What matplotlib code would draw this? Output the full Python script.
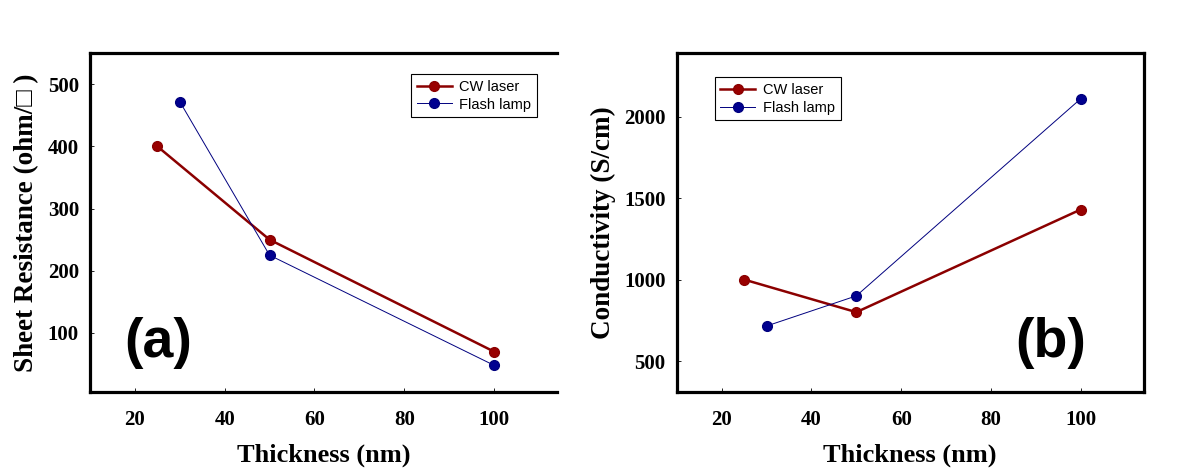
import matplotlib
matplotlib.use("Agg")
import matplotlib.pyplot as plt

# data
cw_x = [25, 50, 100]
flash_x = [30, 50, 100]
cw_sheet = [400, 250, 70]
flash_sheet = [472, 225, 48]
cw_cond = [1000, 800, 1430]
flash_cond = [715, 900, 2110]

xticks = [20, 40, 60, 80, 100]
yticks_a = [100, 200, 300, 400, 500]
yticks_b = [500, 1000, 1500, 2000]

serif = ["Liberation Serif", "DejaVu Sans"]
sans = ["Liberation Sans", "DejaVu Sans"]

red = "#8b0000"
blue = "#00007f"

fig = plt.figure(figsize=(12, 4.74), dpi=100)
ax1 = fig.add_axes([0.075, 0.173, 0.389, 0.715])
ax2 = fig.add_axes([0.564, 0.173, 0.389, 0.715])


def style(ax, yticks):
    for s in ax.spines.values():
        s.set_linewidth(2.3)
    ax.set_xticks(xticks)
    ax.set_yticks(yticks)
    ax.tick_params(direction="in", length=3, width=0.6)
    ax.tick_params(axis="x", pad=13)
    ax.tick_params(axis="y", pad=8)
    for lab in ax.get_xticklabels() + ax.get_yticklabels():
        lab.set_family(serif)
        lab.set_weight("bold")
        lab.set_fontsize(15)
    ax.set_xlabel("Thickness (nm)", family=serif, weight="bold", fontsize=19, labelpad=10)


def plot_pair(ax, cw, fl):
    ax.plot(cw_x, cw, "-o", color=red, lw=1.8, ms=7, mfc="#990000", mec=red, label="CW laser")
    ax.plot(flash_x, fl, "-o", color=blue, lw=0.7, ms=7, mfc="#000090", mec=blue, label="Flash lamp")


# (a) sheet resistance
plot_pair(ax1, cw_sheet, flash_sheet)
ax1.set_xlim(10, 114)
ax1.set_ylim(5, 550)
style(ax1, yticks_a)
ax1.spines["right"].set_visible(False)
ax1.set_ylabel("Sheet Resistance (ohm/\u25a1 )", family=serif, weight="bold", fontsize=19.5, labelpad=6)
ax1.text(0.146, 0.145, "(a)", transform=ax1.transAxes, ha="center", va="center",
         family=sans, weight="bold", fontsize=40)
leg1 = ax1.legend(loc="upper left", bbox_to_anchor=(0.687, 0.938), borderaxespad=0,
                  fancybox=False, edgecolor="black", framealpha=1, prop={"family": sans, "size": 10.5},
                  handlelength=2.4, handletextpad=0.5, labelspacing=0.25)
leg1.get_frame().set_linewidth(0.8)

# (b) conductivity
plot_pair(ax2, cw_cond, flash_cond)
ax2.set_xlim(10, 114)
ax2.set_ylim(310, 2390)
style(ax2, yticks_b)
ax2.set_ylabel("Conductivity (S/cm)", family=serif, weight="bold", fontsize=19.5, labelpad=6)
ax2.text(0.80, 0.145, "(b)", transform=ax2.transAxes, ha="center", va="center",
         family=sans, weight="bold", fontsize=40)
leg2 = ax2.legend(loc="upper left", bbox_to_anchor=(0.081, 0.929), borderaxespad=0,
                  fancybox=False, edgecolor="black", framealpha=1, prop={"family": sans, "size": 10.5},
                  handlelength=2.4, handletextpad=0.5, labelspacing=0.25)
leg2.get_frame().set_linewidth(0.8)

fig.savefig("out.png", dpi=100)
